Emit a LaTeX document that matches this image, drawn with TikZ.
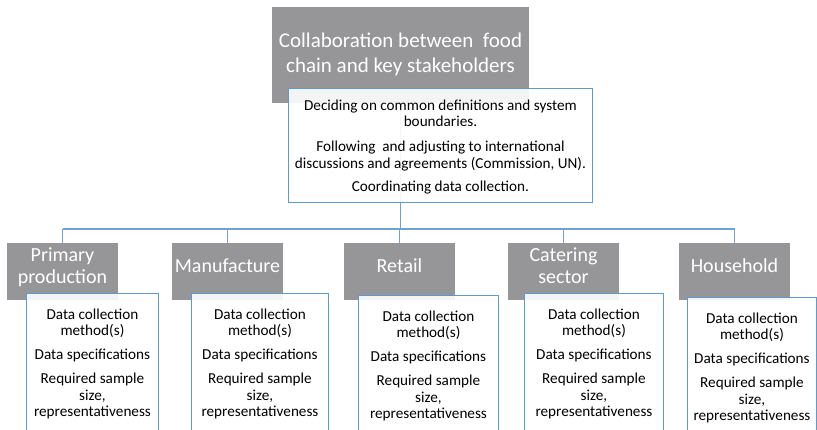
\documentclass[tikz,border=0pt]{standalone}
\usepackage{fontspec}
\setmainfont{Carlito}
\definecolor{headGray}{RGB}{150,150,152}
\definecolor{boxBlue}{RGB}{91,155,213}
\definecolor{linkBlue}{RGB}{112,160,212}
\tikzset{
  headbox/.style={fill=headGray,text=white,inner sep=0pt,align=center,text depth=12pt,
    minimum width=111pt,minimum height=57pt,font=\fontsize{20}{21.7}\selectfont},
  infobox/.style={draw=boxBlue,line width=0.9pt,fill=white,fill opacity=0.9,text opacity=1,
    anchor=north west,inner xsep=0pt,inner ysep=0pt,font=\fontsize{15.2}{16.5}\selectfont},
  link/.style={draw=linkBlue,line width=1.6pt}
}
\begin{document}
\begin{tikzpicture}[x=1pt,y=-1pt]
\useasboundingbox (0,0) rectangle (817,430);
\clip (0,0) rectangle (817,430);

% Top level
\node[headbox,minimum width=257pt,minimum height=96pt,text depth=5pt,font=\fontsize{21}{25}\selectfont] (title) at (400.5,55) {Collaboration between~ food\\chain and key stakeholders};
\coordinate (bus) at (400.5,229);
\draw[link] (title.south) -- (bus);
\node[infobox,fill opacity=0.9] (tasks) at (288,88) {%
  \begin{minipage}[t][114pt][t]{304pt}\centering\fontsize{15.2}{16.7}\selectfont
  \vspace{11pt}
  Deciding on common definitions and system\\boundaries.\\[8.3pt]
  Following~ and adjusting to international\\discussions and agreements (Commission, UN).\\[6.6pt]
  Coordinating data collection.
  \end{minipage}};

% Food chain stages
\node[headbox] (prim) at (62.5,271.5) {Primary\\production};
\node[headbox] (manu) at (227.5,271.5) {Manufacture};
\node[headbox] (ret) at (399.5,271.5) {Retail};
\node[headbox] (cat) at (563.5,271.5) {Catering\\sector};
\node[headbox] (home) at (734.5,271.5) {Household};

% Data requirements per stage
\node[infobox] (primData) at (26,293) {%
  \begin{minipage}[t][145pt][t]{132pt}\centering
  \vspace{15pt}
  Data collection\\method(s)\\[7.5pt]
  Data specifications\\[7.5pt]
  Required sample\\size,\\representativeness
  \end{minipage}};
\node[infobox] (manuData) at (191,293) {%
  \begin{minipage}[t][145pt][t]{137pt}\centering
  \vspace{15pt}
  Data collection\\method(s)\\[7.5pt]
  Data specifications\\[7.5pt]
  Required sample\\size,\\representativeness
  \end{minipage}};
\node[infobox] (retData) at (358,295) {%
  \begin{minipage}[t][145pt][t]{140pt}\centering
  \vspace{15pt}
  Data collection\\method(s)\\[7.5pt]
  Data specifications\\[7.5pt]
  Required sample\\size,\\representativeness
  \end{minipage}};
\node[infobox] (catData) at (524,293) {%
  \begin{minipage}[t][145pt][t]{139pt}\centering
  \vspace{15pt}
  Data collection\\method(s)\\[7.5pt]
  Data specifications\\[7.5pt]
  Required sample\\size,\\representativeness
  \end{minipage}};
\node[infobox] (homeData) at (687,297) {%
  \begin{minipage}[t][145pt][t]{129pt}\centering
  \vspace{15pt}
  Data collection\\method(s)\\[7.5pt]
  Data specifications\\[7.5pt]
  Required sample\\size,\\representativeness
  \end{minipage}};

% Connections
\draw[link] (bus -| prim.north) -- (bus -| home.north);
\draw[link] (bus -| prim.north) -- (prim.north);
\draw[link] (bus -| manu.north) -- (manu.north);
\draw[link] (bus -| ret.north) -- (ret.north);
\draw[link] (bus -| cat.north) -- (cat.north);
\draw[link] (bus -| home.north) -- (home.north);
\end{tikzpicture}
\end{document}
